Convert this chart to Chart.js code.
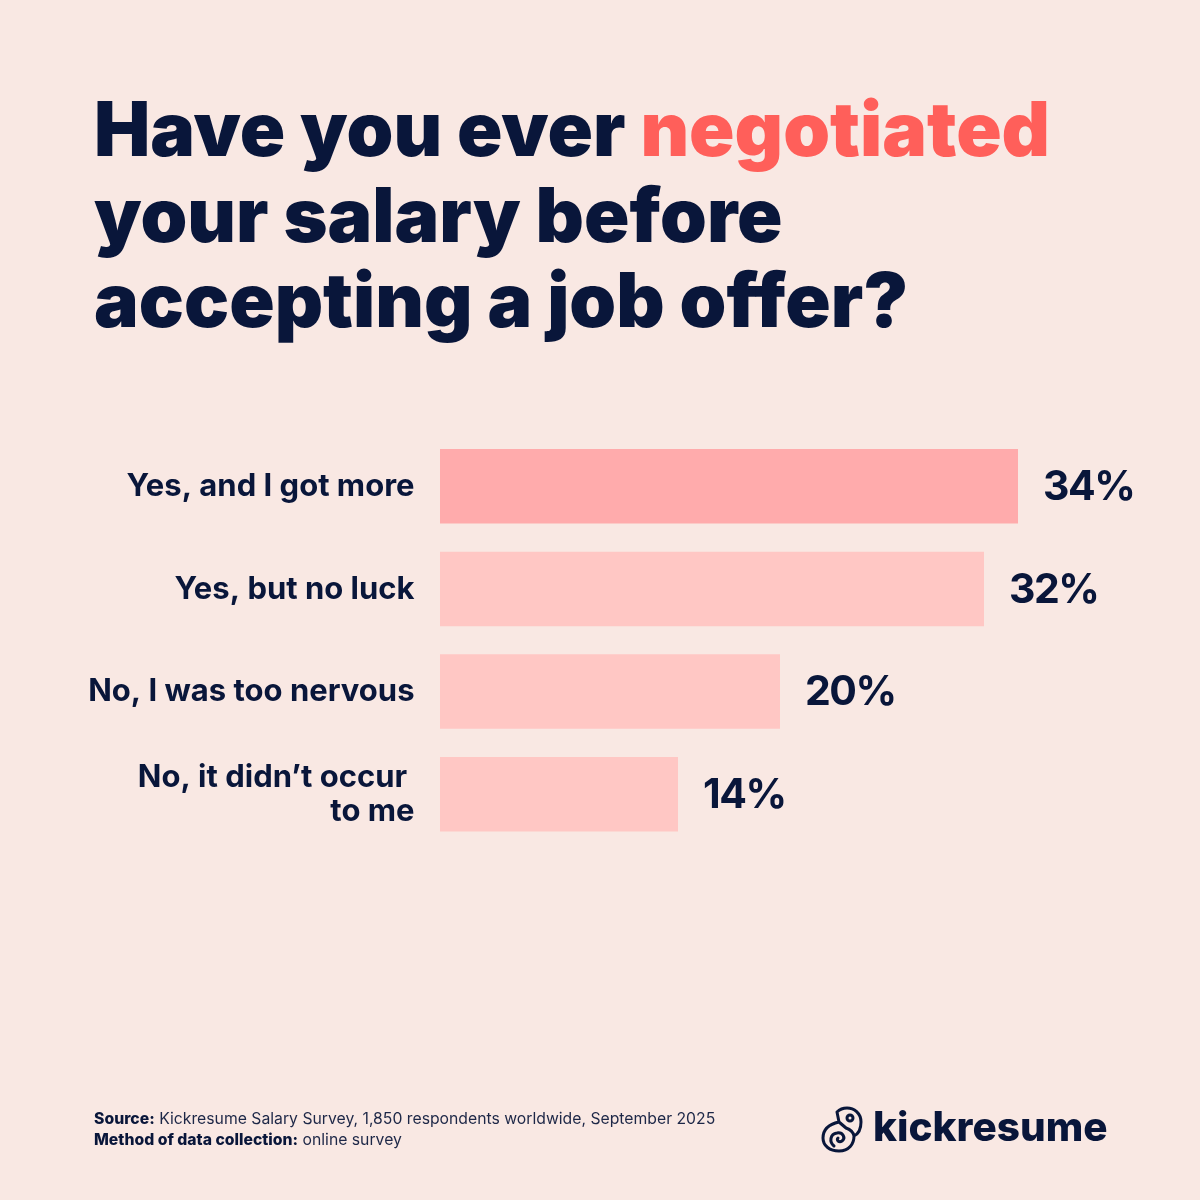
<!DOCTYPE html>
<html>
<head>
<meta charset="utf-8">
<script src="https://cdn.jsdelivr.net/npm/chart.js@4"></script>
<style>
  html, body { margin: 0; padding: 0; background: #f9e8e3; }
  .page { position: relative; width: 1200px; height: 1200px; overflow: hidden; color: #09163a; font-family: Inter, sans-serif; }
  #chart { position: absolute; left: 0; top: 0; }
  h1 { position: absolute; left: 94px; top: 86px; margin: 0; font-size: 75px; line-height: 85.5px; font-weight: 900; white-space: nowrap; }
  h1 span { color: #ff5f5a; }
  .notes { position: absolute; left: 94px; top: 1108px; font-size: 15.75px; line-height: 21px; white-space: nowrap; color: #1d2747; }
  .notes b { font-weight: 800; color: #09163a; }
  .logo { position: absolute; left: 820px; top: 1105px; display: flex; align-items: center; }
  .logo svg { display: block; }
  .logo span { position: relative; top: -2px; font-size: 40.5px; font-weight: 800; margin-left: 9px; line-height: 46px; }
</style>
</head>
<body>
<div class="page">
  <canvas id="chart" width="1200" height="1200"></canvas>
  <h1>Have you ever <span>negotiated</span><br>your salary before<br>accepting a job offer?</h1>
  <div class="notes">
    <div><b>Source:</b> Kickresume Salary Survey, 1,850 respondents worldwide, September 2025</div>
    <div><b>Method of data collection:</b> online survey</div>
  </div>
  <div class="logo">
    <svg width="44" height="48" viewBox="0 0 44 48" fill="none" stroke="#09163a" stroke-width="3" stroke-linecap="round" stroke-linejoin="round">
      <path d="M19 17 C10 19 3 24 3 33 C3 41 10 46 19 46 C29 46 34 39 34 31 C38 29 41 24 41 17 C41 8 34 3 27 3 C23 3 19 5 17 7 L19 17 L26 23 C29 24 33 26 34 31"/>
      <circle cx="30" cy="13" r="3"/>
      <path d="M14 41 C9 37 10 29 17 28 C23 27 26 33 22 36 C19 38 16 35 18 33"/>
    </svg>
    <span>kickresume</span>
  </div>
</div>
<script>
/* Survey answers, percent of respondents */
const categories = [
  'Yes, and I got more',
  'Yes, but no luck',
  'No, I was too nervous',
  ['No, it didn\u2019t occur ', 'to me'],
];
const values = [34, 32, 20, 14];
const barColors = ['#ffabac', '#ffc7c4', '#ffc7c4', '#ffc7c4'];

/* Percent labels to the right of each bar */
const valueLabels = {
  id: 'valueLabels',
  afterDatasetsDraw(chart) {
    const ctx = chart.ctx;
    ctx.save();
    ctx.font = '700 41px Inter';
    ctx.letterSpacing = '-1.5px';
    ctx.fillStyle = '#09163a';
    ctx.textAlign = 'left';
    ctx.textBaseline = 'middle';
    chart.getDatasetMeta(0).data.forEach((bar, i) => {
      ctx.fillText(values[i] + '%', bar.x + 25, bar.y + 1.5);
    });
    ctx.restore();
  },
};

const chart = new Chart(document.getElementById('chart').getContext('2d'), {
  type: 'bar',
  data: {
    labels: categories,
    datasets: [
      {
        data: values,
        backgroundColor: barColors,
        borderWidth: 0,
        barPercentage: 0.726,
        categoryPercentage: 1,
      },
    ],
  },
  options: {
    indexAxis: 'y',
    responsive: false,
    animation: false,
    layout: { padding: { top: 435, bottom: 354.5, left: 0, right: 80 } },
    plugins: {
      legend: { display: false },
      tooltip: { enabled: false },
    },
    scales: {
      x: { display: false, min: 0, max: 40 },
      y: {
        afterFit: (axis) => { axis.width = 440; },
        grid: { display: false, drawTicks: false },
        border: { display: false },
        ticks: {
          padding: 25.5,
          labelOffset: 0.5,
          color: '#09163a',
          font: { family: 'Inter', size: 31, weight: '700', lineHeight: 1.1 },
        },
      },
    },
  },
  plugins: [valueLabels],
});
</script>
</body>
</html>
